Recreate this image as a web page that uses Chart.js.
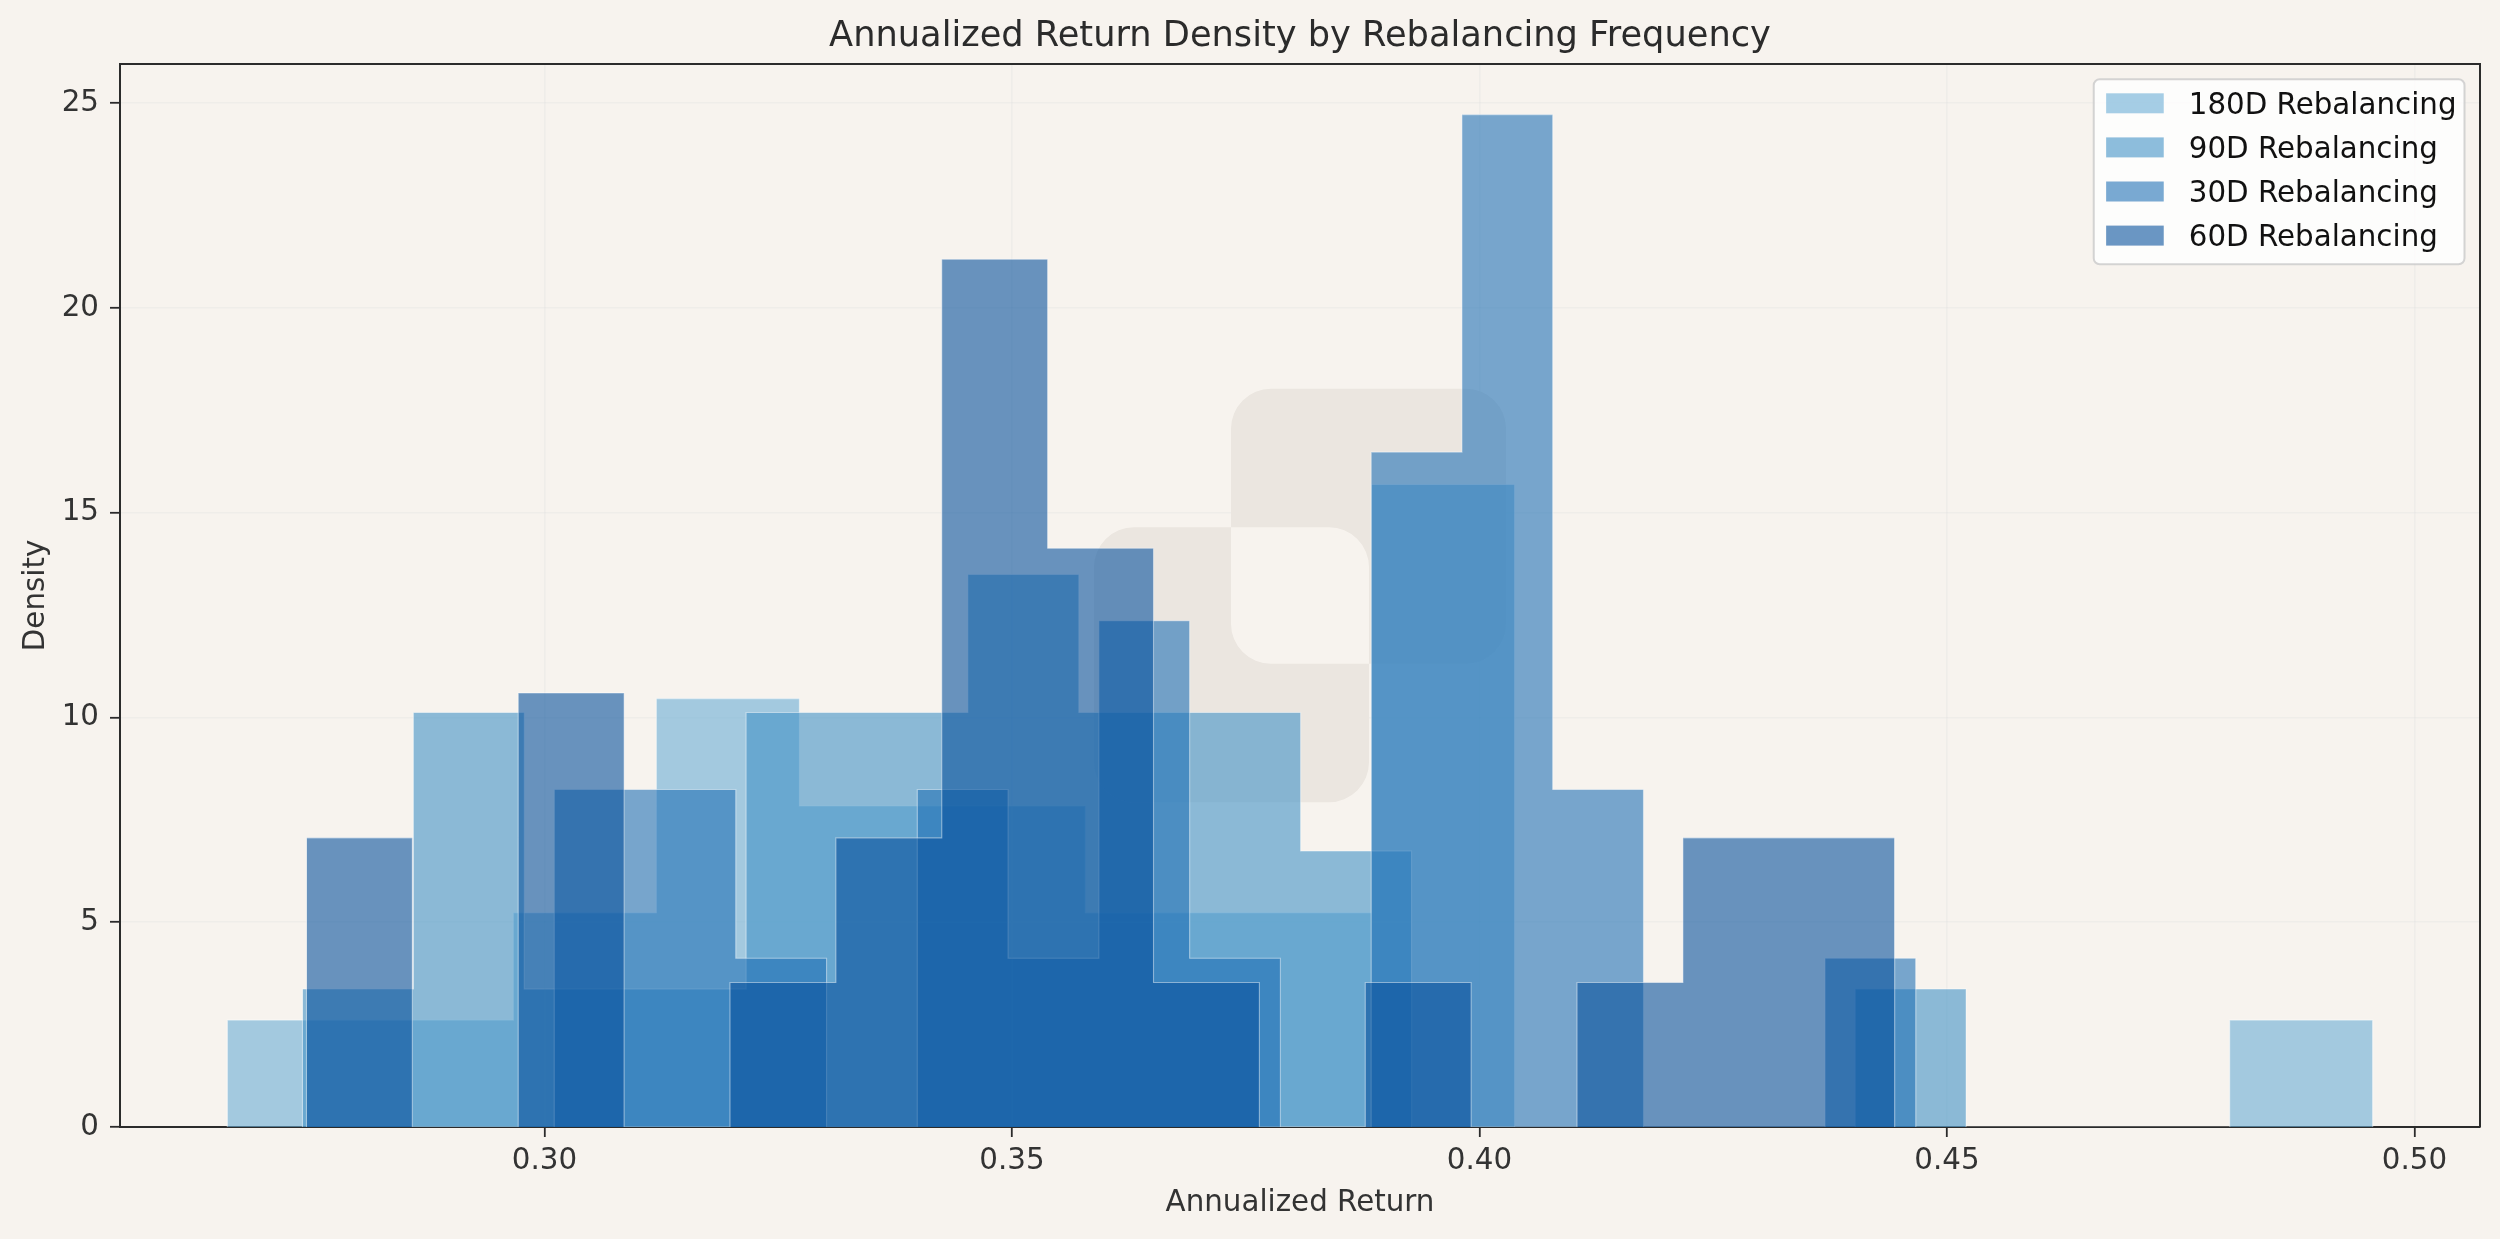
<!DOCTYPE html>
<html>
<head>
<meta charset="utf-8">
<script src="https://cdn.jsdelivr.net/npm/chart.js@4.4.1/dist/chart.umd.min.js"></script>
<style>
html, body { margin: 0; padding: 0; background: #f7f3ee; overflow: hidden; }
#wrap { width: 2500px; height: 1239px; }
canvas { display: block; background: #f7f3ee; }
</style>
</head>
<body>
<div id="wrap"><canvas id="c" width="2500" height="1239"></canvas></div>
<script>
// ---- data ----
const seriesLabels = ['180D Rebalancing', '90D Rebalancing', '30D Rebalancing', '60D Rebalancing'];
const seriesColors = ['rgba(107,174,214,0.6)', 'rgba(66,146,198,0.6)', 'rgba(33,113,181,0.6)', 'rgba(8,81,156,0.6)'];
// histogram range [first edge, last edge] of each series (15 equal bins)
const range180 = [0.26607, 0.49554];
const range90  = [0.27411, 0.45205];
const range30  = [0.30104, 0.44667];
const range60  = [0.27454, 0.44441];
// density of each bin
const density180 = [2.61, 2.61, 5.23, 10.46, 7.84, 7.84, 5.23, 5.23, 15.69, 0, 0, 0, 0, 0, 2.61];
const density90  = [3.37, 10.12, 3.37, 3.37, 10.12, 10.12, 13.49, 10.12, 10.12, 6.74, 0, 0, 0, 0, 3.37];
const density30  = [8.24, 8.24, 4.12, 0, 8.24, 4.12, 12.36, 4.12, 0, 16.48, 24.72, 8.24, 0, 0, 4.12];
const density60  = [7.06, 0, 10.60, 0, 3.53, 7.06, 21.19, 14.13, 3.53, 0, 3.53, 0, 3.53, 7.06, 7.06];
const xTicks = [0.30, 0.35, 0.40, 0.45, 0.50];
const yTicks = [0, 5, 10, 15, 20, 25];

const ranges = [range180, range90, range30, range60];
const densities = [density180, density90, density30, density60];

// step outline (histtype stepfilled) built from bin edges and densities
function histOutline(range, dens) {
  const n = dens.length;
  const w = (range[1] - range[0]) / n;
  const pts = [{ x: range[0], y: 0 }];
  dens.forEach((d, i) => {
    pts.push({ x: range[0] + i * w, y: d });
    pts.push({ x: range[0] + (i + 1) * w, y: d });
  });
  pts.push({ x: range[1], y: 0 });
  return pts;
}

// axis limits like matplotlib autoscale (5% margins, y sticky at 0)
const dMin = Math.min(...ranges.map(r => r[0]));
const dMax = Math.max(...ranges.map(r => r[1]));
const xMargin = (dMax - dMin) * 0.05;
const xMin = dMin - xMargin, xMax = dMax + xMargin;
const yMax = Math.max(...densities.map(d => Math.max(...d))) * 1.05;

const FONT = 'DejaVu Sans';
const FS = 29.33;

function rrect(ctx, x, y, w, h, r) {
  ctx.moveTo(x + r, y);
  ctx.lineTo(x + w - r, y);
  ctx.arcTo(x + w, y, x + w, y + r, r);
  ctx.lineTo(x + w, y + h - r);
  ctx.arcTo(x + w, y + h, x + w - r, y + h, r);
  ctx.lineTo(x + r, y + h);
  ctx.arcTo(x, y + h, x, y + h - r, r);
  ctx.lineTo(x, y + r);
  ctx.arcTo(x, y, x + r, y, r);
  ctx.closePath();
}

const decor = {
  id: 'decor',
  beforeDatasetsDraw(chart) {
    // faint watermark behind the bars
    const { ctx, chartArea: a } = chart;
    const cx = (a.left + a.right) / 2, cy = (a.top + a.bottom) / 2;
    const s = 275, dx = 68.5, dy = 69.3, r = 40;
    ctx.save();
    ctx.beginPath();
    rrect(ctx, cx + dx - s / 2, cy - dy - s / 2, s, s, r);
    rrect(ctx, cx - dx - s / 2, cy + dy - s / 2, s, s, r);
    ctx.fillStyle = '#ebe6e0';
    ctx.fill('evenodd');
    ctx.restore();
  },
  afterDraw(chart) {
    const { ctx, chartArea: a } = chart;
    ctx.save();
    // top and right spines
    ctx.strokeStyle = '#2b2b2b';
    ctx.lineWidth = 2;
    ctx.beginPath();
    ctx.moveTo(a.left, a.top);
    ctx.lineTo(a.right, a.top);
    ctx.lineTo(a.right, a.bottom);
    ctx.stroke();

    // legend (upper right, inside axes)
    ctx.font = `${FS}px "${FONT}"`;
    const tw = Math.max(...seriesLabels.map(t => ctx.measureText(t).width));
    const padL = 12.4, handleW = 57.6, handleH = 20, gap = 25, padR = 8;
    const boxW = padL + handleW + gap + tw + padR;
    const boxH = 185;
    const bx = a.right - 15.5 - boxW;
    const by = a.top + 15.3;
    ctx.beginPath();
    rrect(ctx, bx, by, boxW, boxH, 6);
    ctx.fillStyle = 'rgba(255,255,255,0.8)';
    ctx.fill();
    ctx.strokeStyle = 'rgba(204,204,204,0.85)';
    ctx.lineWidth = 2;
    ctx.stroke();
    seriesLabels.forEach((lab, i) => {
      const c = by + 24 + i * 44.1;
      ctx.fillStyle = seriesColors[i];
      ctx.fillRect(bx + padL, c - handleH / 2, handleW, handleH);
      ctx.fillStyle = '#111111';
      ctx.textAlign = 'left';
      ctx.textBaseline = 'alphabetic';
      ctx.fillText(lab, bx + padL + handleW + gap, c + 0.365 * FS);
    });
    ctx.restore();
  }
};

const gridCommon = {
  color: 'rgba(221,221,221,0.3)',
  lineWidth: 1.6,
  tickLength: 10,
  tickColor: '#2b2b2b',
  tickWidth: 1.8,
  drawOnChartArea: true
};

new Chart(document.getElementById('c'), {
  type: 'scatter',
  data: {
    datasets: seriesLabels.map((lab, i) => ({
      label: lab,
      data: histOutline(ranges[i], densities[i]),
      showLine: true,
      fill: 'origin',
      backgroundColor: seriesColors[i],
      borderColor: 'rgba(255,255,255,0.45)',
      borderWidth: 1.1,
      pointRadius: 0,
      pointHoverRadius: 0,
      tension: 0,
      order: seriesLabels.length - 1 - i
    }))
  },
  options: {
    responsive: false,
    devicePixelRatio: 1,
    animation: false,
    events: [],
    layout: { padding: { left: 0, right: 20, top: 0, bottom: 0 } },
    plugins: {
      legend: { display: false },
      tooltip: { enabled: false },
      title: {
        display: true,
        fullSize: false,
        text: 'Annualized Return Density by Rebalancing Frequency',
        color: '#2b2b2b',
        font: { family: FONT, size: 35.2, weight: 'normal' },
        padding: { top: 16, bottom: 5.76 }
      }
    },
    scales: {
      x: {
        type: 'linear',
        position: 'bottom',
        min: xMin,
        max: xMax,
        z: 1,
        afterBuildTicks: s => { s.ticks = xTicks.map(v => ({ value: v })); },
        afterFit: s => { s.height = 112; },
        ticks: {
          callback: v => Number(v).toFixed(2),
          color: '#333333',
          font: { family: FONT, size: FS },
          padding: 6.5,
          maxRotation: 0,
          autoSkip: false
        },
        grid: gridCommon,
        border: { display: true, color: '#2b2b2b', width: 2 },
        title: {
          display: true,
          text: 'Annualized Return',
          color: '#333333',
          font: { family: FONT, size: FS },
          padding: { top: 0, bottom: 18.4 }
        }
      },
      y: {
        type: 'linear',
        position: 'left',
        min: 0,
        max: yMax,
        z: 1,
        afterBuildTicks: s => { s.ticks = yTicks.map(v => ({ value: v })); },
        afterFit: s => { s.width = 120; },
        ticks: {
          callback: v => String(v),
          color: '#333333',
          font: { family: FONT, size: FS },
          padding: 11
        },
        grid: gridCommon,
        border: { display: true, color: '#2b2b2b', width: 2 },
        title: {
          display: true,
          text: 'Density',
          color: '#333333',
          font: { family: FONT, size: FS },
          padding: { top: 19, bottom: 0 }
        }
      }
    }
  },
  plugins: [decor]
});
</script>
</body>
</html>
